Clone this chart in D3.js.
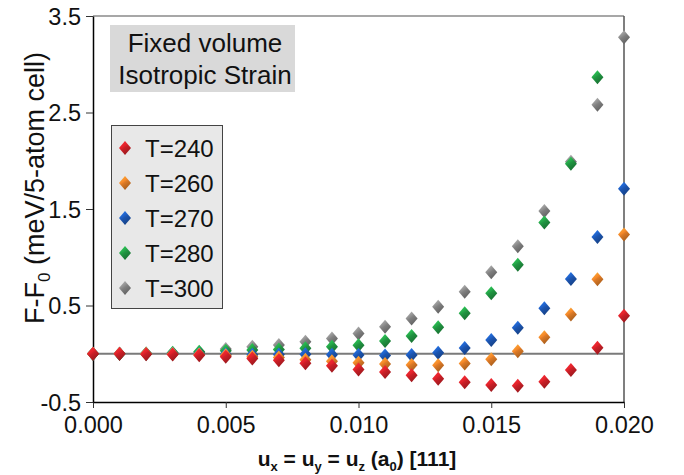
<!DOCTYPE html>
<html>
<head>
<meta charset="utf-8">
<script src="https://cdn.jsdelivr.net/npm/d3@7"></script>
<style>
  body { margin: 0; background: #fff; }
  text { font-family: "Liberation Sans", Arial, sans-serif; fill: #111; }
</style>
</head>
<body>
<div id="chart-area"></div>
<script>
// strain along [111]
var strain = [0.000, 0.001, 0.002, 0.003, 0.004, 0.005, 0.006, 0.007, 0.008, 0.009, 0.010,
              0.011, 0.012, 0.013, 0.014, 0.015, 0.016, 0.017, 0.018, 0.019, 0.020];

var temps = ["T=240", "T=260", "T=270", "T=280", "T=300"];

var t240 = [0, 0, -0.005, -0.008, -0.015, -0.03, -0.05, -0.068, -0.098, -0.125, -0.162,
            -0.188, -0.224, -0.258, -0.296, -0.324, -0.331, -0.289, -0.168, 0.063, 0.395];
var t260 = [0, 0, 0, -0.003, -0.008, -0.015, -0.03, -0.038, -0.063, -0.078, -0.094,
            -0.106, -0.117, -0.12, -0.1, -0.058, 0.025, 0.17, 0.408, 0.771, 1.235];
var t270 = [0, 0, 0, 0, -0.003, -0.005, -0.01, -0.008, -0.005, -0.01, -0.014,
            -0.018, -0.013, 0.011, 0.06, 0.143, 0.27, 0.471, 0.775, 1.21, 1.71];
var t280 = [0, 0, 0.003, 0.01, 0.02, 0.03, 0.038, 0.045, 0.058, 0.072, 0.088,
            0.132, 0.184, 0.274, 0.419, 0.626, 0.923, 1.36, 1.97, 2.865, null];
var t300 = [0, 0, 0.003, 0.008, 0.015, 0.05, 0.072, 0.09, 0.125, 0.158, 0.21,
            0.28, 0.365, 0.488, 0.643, 0.844, 1.115, 1.48, 1.99, 2.58, 3.28];

var xTicks = [0, 0.005, 0.010, 0.015, 0.020];
var yTicks = [-0.5, 0.5, 1.5, 2.5, 3.5];

var seriesColors = ["#e3232b", "#f5882a", "#1f5fc4", "#24a548", "#8e8e8e"];

var margin = {left:93, right:60, top:16, bottom:73};
var width = 684 - margin.left - margin.right,
	height = 475 - margin.top - margin.bottom;

var svg = d3.select("#chart-area")
	.append("svg")
		.attr("width", 684)
		.attr("height", 475);

var canvas = svg.append("g")
	.attr("transform", "translate(" + margin.left + ", " + margin.top + ")");

//scales
var x = d3.scaleLinear()
	.domain([0, 0.020])
	.range([0, width]);

var y = d3.scaleLinear()
	.domain([-0.5, 3.5])
	.range([height, 0]);

//gem-like gradients for the diamond markers
var defs = svg.append("defs");
seriesColors.forEach(function(c, i){
	var g = defs.append("linearGradient")
		.attr("id", "gem" + i)
		.attr("x1", "0").attr("y1", "0")
		.attr("x2", "0.6").attr("y2", "1");
	g.append("stop").attr("offset", "0%").attr("stop-color", d3.color(c).brighter(0.9));
	g.append("stop").attr("offset", "45%").attr("stop-color", c);
	g.append("stop").attr("offset", "55%").attr("stop-color", d3.color(c).darker(0.3));
	g.append("stop").attr("offset", "100%").attr("stop-color", d3.color(c).darker(1.1));
});

function diamond(sel){
	sel.attr("d", "M0,-7L6,0L0,7L-6,0Z");
}

//frame: top and right in gray
canvas.append("line")
	.attr("x1", 0).attr("x2", width).attr("y1", 0).attr("y2", 0)
	.attr("stroke", "#8a8a8a").attr("stroke-width", 1.5);
canvas.append("line")
	.attr("x1", width).attr("x2", width).attr("y1", 0).attr("y2", height)
	.attr("stroke", "#555").attr("stroke-width", 1.5);

//zero line
canvas.append("line")
	.attr("x1", 0).attr("x2", width)
	.attr("y1", y(0)).attr("y2", y(0))
	.attr("stroke", "#7a7a7a").attr("stroke-width", 2);

//x axis
var xAxisCall = d3.axisBottom(x)
	.tickValues(xTicks)
	.tickSize(6)
	.tickSizeOuter(0)
	.tickPadding(6)
	.tickFormat(d3.format(".3f"));

var xAxis = canvas.append("g")
	.attr("class", "x axis")
	.attr("transform", "translate(0, " + height + ")")
	.call(xAxisCall);

//y axis (plain hyphen for the minus sign)
var yAxisCall = d3.axisLeft(y)
	.tickValues(yTicks)
	.tickSize(7)
	.tickSizeOuter(0)
	.tickPadding(5)
	.tickFormat(function(d){ return d.toFixed(1); });

var yAxis = canvas.append("g")
	.attr("class", "y axis")
	.call(yAxisCall);

[xAxis, yAxis].forEach(function(a){
	a.select(".domain").attr("stroke", "#000").attr("stroke-width", 1.5);
	a.selectAll(".tick line").attr("stroke", "#333").attr("stroke-width", 1);
	a.selectAll(".tick text")
		.attr("font-size", "23.5px")
		.attr("font-family", "Liberation Sans, Arial, sans-serif")
		.attr("fill", "#111");
});
xAxis.selectAll(".tick text").attr("dy", "0.82em");
yAxis.selectAll(".tick text").attr("dy", "0.36em");

//points, red drawn last so it sits on top
var allSeries = [t240, t260, t270, t280, t300];
var points = canvas.append("g");
for (var s = allSeries.length - 1; s >= 0; s--) {
	var rows = strain.map(function(u, i){ return {u: u, f: allSeries[s][i]}; })
		.filter(function(d){ return d.f !== null; });
	points.selectAll(".pt" + s)
		.data(rows)
		.enter()
		.append("path")
			.attr("class", "pt" + s)
			.call(diamond)
			.attr("transform", function(d){ return "translate(" + x(d.u) + "," + y(d.f) + ")"; })
			.attr("fill", "url(#gem" + s + ")");
}

//annotation box
var note = svg.append("g");
note.append("rect")
	.attr("x", 110).attr("y", 25)
	.attr("width", 185).attr("height", 67)
	.attr("fill", "#d9d9d9");
note.append("text")
	.attr("x", 205).attr("y", 52)
	.attr("text-anchor", "middle")
	.attr("font-size", "26px")
	.text("Fixed volume");
note.append("text")
	.attr("x", 205).attr("y", 84)
	.attr("text-anchor", "middle")
	.attr("font-size", "26px")
	.text("Isotropic Strain");

//legend
var legend = svg.append("g");
legend.append("rect")
	.attr("x", 111.5).attr("y", 125.5)
	.attr("width", 111).attr("height", 183)
	.attr("fill", "#e8e8e8")
	.attr("stroke", "#444")
	.attr("stroke-width", 1);

temps.forEach(function(t, i){
	var row = legend.append("g")
		.attr("transform", "translate(125, " + (148 + i * 35) + ")");
	row.append("path")
		.call(diamond)
		.attr("fill", "url(#gem" + i + ")");
	row.append("text")
		.attr("x", 20)
		.attr("y", 8.5)
		.attr("font-size", "24px")
		.text(t);
});

//labels
var yLabel = svg.append("text")
	.attr("transform", "translate(44, 188) rotate(-90)")
	.attr("text-anchor", "middle")
	.attr("font-size", "27px");
yLabel.append("tspan").text("F-F");
yLabel.append("tspan").attr("font-size", "17px").attr("dy", 6).text("0");
yLabel.append("tspan").attr("dy", -6).text(" (meV/5-atom cell)");

var xLabel = svg.append("text")
	.attr("x", 357)
	.attr("y", 466)
	.attr("text-anchor", "middle")
	.attr("font-size", "21px")
	.attr("font-weight", "bold");
function sub(base, s, after){
	xLabel.append("tspan").text(base);
	xLabel.append("tspan").attr("font-size", "13px").attr("dy", 5).text(s);
	xLabel.append("tspan").attr("dy", -5).text(after);
}
sub("u", "x", " = ");
sub("u", "y", " = ");
sub("u", "z", " (");
sub("a", "0", ") [111]");
</script>
</body>
</html>
